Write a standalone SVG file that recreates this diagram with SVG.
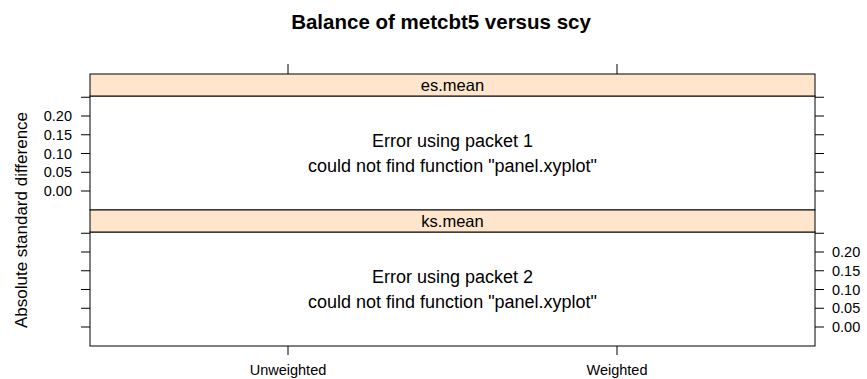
<svg xmlns="http://www.w3.org/2000/svg" width="867" height="379" viewBox="0 0 867 379">
<style>
text{font-family:"Liberation Sans",Arial,sans-serif;fill:#000}
.title{font-size:20.5px;font-weight:bold}
.strip{fill:#FFE5CC;stroke:#000;stroke-width:1}
.panel{fill:#fff;stroke:#000;stroke-width:1}
.tick{stroke:#000;stroke-width:1;fill:none}
.ax{font-size:14.5px}
.st{font-size:16.5px}
.msg{font-size:18px}
.ylab{font-size:17px}
</style>
<rect width="867" height="379" fill="#fff"/>
<text class="title" x="441" y="28.5" text-anchor="middle">Balance of metcbt5 versus scy</text>
<text class="ylab" transform="translate(27,220) rotate(-90)" text-anchor="middle">Absolute standard difference</text>

<g id="panel-es-mean">
<rect class="panel" x="90" y="96" width="725" height="114"/>
<rect class="strip" x="90" y="74" width="725" height="22"/>
<text class="st" x="452.5" y="91" text-anchor="middle">es.mean</text>
<text class="msg" x="452.5" y="146.5" text-anchor="middle">Error using packet 1</text>
<text class="msg" x="452.5" y="172" text-anchor="middle">could not find function "panel.xyplot"</text>
</g>

<g id="panel-ks-mean">
<rect class="panel" x="90" y="232" width="725" height="114"/>
<rect class="strip" x="90" y="210" width="725" height="22"/>
<text class="st" x="452.5" y="227" text-anchor="middle">ks.mean</text>
<text class="msg" x="452.5" y="282.5" text-anchor="middle">Error using packet 2</text>
<text class="msg" x="452.5" y="308" text-anchor="middle">could not find function "panel.xyplot"</text>
</g>

<g id="axes">
<path class="tick" d="M288 64V74M617 64V74M288 346V355M617 346V355"/>
<path class="tick" d="M81 97.25H90M81 116H90M81 134.75H90M81 153.5H90M81 172.25H90M81 191H90"/>
<path class="tick" d="M815 97.25H824M815 116H824M815 134.75H824M815 153.5H824M815 172.25H824M815 191H824"/>
<path class="tick" d="M81 233.25H90M81 252H90M81 270.75H90M81 289.5H90M81 308.25H90M81 327H90"/>
<path class="tick" d="M815 233.25H824M815 252H824M815 270.75H824M815 289.5H824M815 308.25H824M815 327H824"/>
<g class="ax" text-anchor="end">
<text x="72" y="121">0.20</text>
<text x="72" y="139.75">0.15</text>
<text x="72" y="158.5">0.10</text>
<text x="72" y="177.25">0.05</text>
<text x="72" y="196">0.00</text>
</g>
<g class="ax" text-anchor="start">
<text x="832" y="257">0.20</text>
<text x="832" y="275.75">0.15</text>
<text x="832" y="294.5">0.10</text>
<text x="832" y="313.25">0.05</text>
<text x="832" y="332">0.00</text>
</g>
<text class="ax" x="288" y="375" text-anchor="middle">Unweighted</text>
<text class="ax" x="617" y="375" text-anchor="middle">Weighted</text>
</g>
</svg>
